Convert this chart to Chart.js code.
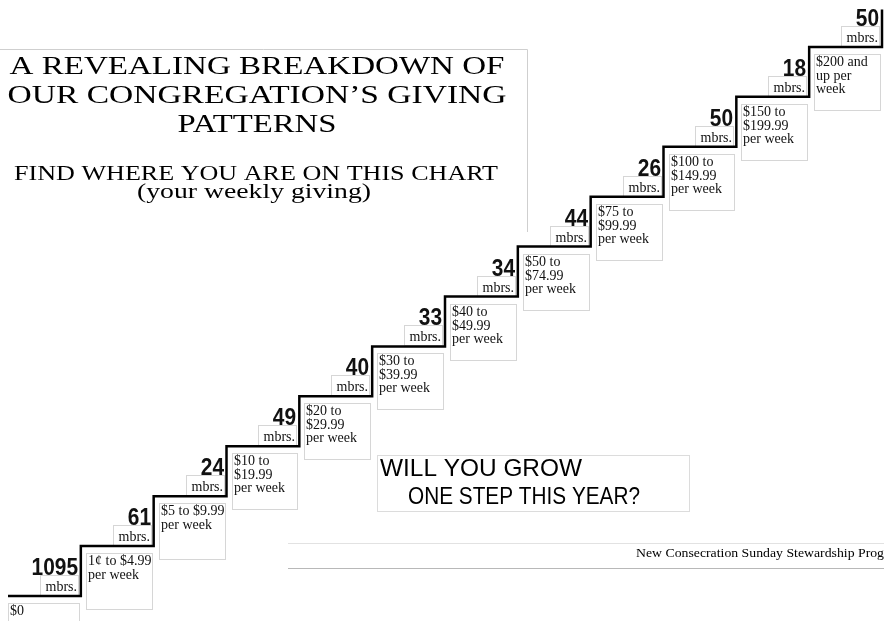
<!DOCTYPE html>
<html>
<head>
<meta charset="utf-8">
<title>Giving Patterns Staircase</title>
<script src="https://cdn.jsdelivr.net/npm/chart.js@4.4.1/dist/chart.umd.min.js"></script>
<style>
  html, body { margin: 0; padding: 0; background: #fff; }
  #wrap { position: relative; width: 884px; height: 621px; overflow: hidden; }
</style>
</head>
<body>
<div id="wrap"><canvas id="stairChart" width="884" height="621"></canvas></div>
<script>
// --- Data ---
// weekly giving brackets, one per step (lines as printed)
const brackets = [
    ['$0'],
    ['1¢ to $4.99', 'per week'],
    ['$5 to $9.99', 'per week'],
    ['$10 to', '$19.99', 'per week'],
    ['$20 to', '$29.99', 'per week'],
    ['$30 to', '$39.99', 'per week'],
    ['$40 to', '$49.99', 'per week'],
    ['$50 to', '$74.99', 'per week'],
    ['$75 to', '$99.99', 'per week'],
    ['$100 to', '$149.99', 'per week'],
    ['$150 to', '$199.99', 'per week'],
    ['$200 and', 'up per', 'week']
];
// members giving in each bracket
const members = [1095, 61, 24, 49, 40, 33, 34, 44, 26, 50, 18, 50];
// stair level of each step (uniform rise), plus where the last riser stops
const stepLevels = [0, 1, 2, 3, 4, 5, 6, 7, 8, 9, 10, 11];
const topLevel = 11.75;

const titleLines = ['A REVEALING BREAKDOWN OF', 'OUR CONGREGATION\u2019S GIVING', 'PATTERNS'];
const subtitleLines = ['FIND WHERE YOU ARE ON THIS CHART', '(your weekly giving)'];
const calloutLines = ['WILL YOU GROW', 'ONE STEP THIS YEAR?'];
const footerText = 'New Consecration Sunday Stewardship Prog';

const SERIF = "'Liberation Serif', 'DejaVu Serif', serif";
const SANS = "'Liberation Sans', Arial, sans-serif";
const BOX_GREY = '#d6d6d6';

// --- Build the stepped line points ---
const stairPoints = stepLevels.map((lvl, i) => ({ x: i, y: lvl }));
stairPoints.push({ x: stepLevels.length, y: topLevel });

// draw text squeezed/stretched to a given width
function fitText(ctx, text, x, y, width, align) {
    const w = ctx.measureText(text).width;
    const sx = width / w;
    ctx.save();
    let left = x;
    if (align === 'center') left = x - width / 2;
    else if (align === 'right') left = x - width;
    ctx.translate(left, y);
    ctx.scale(sx, 1);
    ctx.textAlign = 'left';
    ctx.fillText(text, 0, 0);
    ctx.restore();
}

function boxLine(ctx, x1, y1, x2, y2, color) {
    ctx.beginPath();
    ctx.moveTo(x1, y1);
    ctx.lineTo(x2, y2);
    ctx.strokeStyle = color;
    ctx.lineWidth = 1;
    ctx.stroke();
}

// --- Plugin: frames, headings, step labels ---
const stairLabels = {
    id: 'stairLabels',
    beforeDatasetsDraw(chart) {
        const ctx = chart.ctx;
        const xs = chart.scales.x, ys = chart.scales.y;
        ctx.save();
        ctx.textBaseline = 'alphabetic';

        // heading frame (top + right rule)
        boxLine(ctx, 0, 49.5, 527.5, 49.5, '#cfcfcf');
        boxLine(ctx, 527.5, 49.5, 527.5, 232, '#cfcfcf');

        // footer rules
        boxLine(ctx, 288, 543.5, 884, 543.5, '#e2e2e2');
        boxLine(ctx, 288, 568.5, 884, 568.5, '#b8b8b8');

        // call-out box
        ctx.strokeStyle = '#dcdcdc';
        ctx.strokeRect(377.5, 455.5, 312, 56);

        // bracket boxes under treads + member boxes on treads
        stepLevels.forEach((lvl, i) => {
            const xl = Math.round(xs.getPixelForValue(i));
            const xr = Math.round(xs.getPixelForValue(i + 1));
            const yt = Math.round(ys.getPixelForValue(lvl));

            // bracket box
            const bx = i === 0 ? xl : xl + 5;
            const by = yt + 7;
            ctx.strokeStyle = BOX_GREY;
            ctx.lineWidth = 1;
            ctx.strokeRect(bx + 0.5, by + 0.5, xr - bx - 2, 56);

            ctx.fillStyle = '#111';
            ctx.font = '14px ' + SERIF;
            ctx.textAlign = 'left';
            brackets[i].forEach((line, j) => {
                ctx.fillText(line, bx + 2, by + 12 + j * 13.5);
            });

            // members box
            ctx.strokeStyle = BOX_GREY;
            ctx.strokeRect(xr - 40.5, yt - 20.5, 38, 20);
            ctx.fillStyle = '#111';
            ctx.font = '14px ' + SERIF;
            ctx.textAlign = 'right';
            ctx.fillText('mbrs.', xr - 4, yt - 5);

            // member count
            ctx.font = 'bold 24px ' + SANS;
            const txt = String(members[i]);
            const w = ctx.measureText(txt).width * 0.87;
            fitText(ctx, txt, xr - 3, yt - 21, w, 'right');
        });

        // heading
        ctx.fillStyle = '#000';
        ctx.font = '26px ' + SERIF;
        fitText(ctx, titleLines[0], 257, 74, 495, 'center');
        fitText(ctx, titleLines[1], 257, 103, 499, 'center');
        fitText(ctx, titleLines[2], 257, 132, 159, 'center');
        ctx.font = '21px ' + SERIF;
        fitText(ctx, subtitleLines[0], 256, 180, 484, 'center');
        fitText(ctx, subtitleLines[1], 254, 198, 234, 'center');

        // call-out
        ctx.font = '24px ' + SANS;
        fitText(ctx, calloutLines[0], 380, 476, 202, 'left');
        fitText(ctx, calloutLines[1], 408, 504, 232, 'left');

        // footer
        ctx.font = '13px ' + SERIF;
        fitText(ctx, footerText, 884, 557, 248, 'right');

        ctx.restore();
    }
};

// --- Chart ---
const ctx = document.getElementById('stairChart').getContext('2d');
new Chart(ctx, {
    type: 'line',
    data: {
        datasets: [{
            label: 'Giving steps',
            data: stairPoints,
            stepped: 'before', // tread first, then riser
            borderColor: '#000',
            borderWidth: 2.5,
            pointRadius: 0,
            fill: false,
            clip: false
        }]
    },
    options: {
        responsive: false,
        animation: false,
        layout: { padding: { left: 8, right: 2, top: 0, bottom: 25 } },
        scales: {
            x: { type: 'linear', min: 0, max: 12, display: false },
            y: { type: 'linear', min: 0, max: 11.94, display: false }
        },
        plugins: {
            legend: { display: false },
            title: { display: false },
            tooltip: { enabled: false }
        }
    },
    plugins: [stairLabels]
});
</script>
</body>
</html>
